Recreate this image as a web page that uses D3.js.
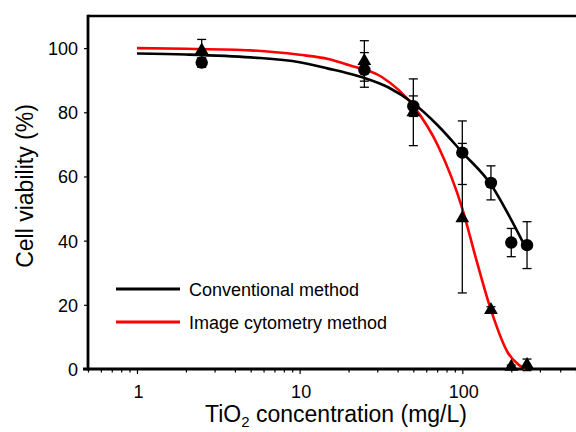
<!DOCTYPE html>
<html>
<head>
<meta charset="utf-8">
<script src="https://cdn.jsdelivr.net/npm/d3@7"></script>
<style>
  body { margin: 0; background: #fff; }
  text { font-family: Arial, "Liberation Sans", sans-serif; fill: #000; }
</style>
</head>
<body>
<svg width="576" height="432"></svg>
<script>
let width = 576, height = 432;

// measured points (mg/L)
let conc = [2.5, 25, 50, 100, 150, 200, 250];
let convMean = [95.5, 93.2, 81.9, 67.4, 58.0, 39.4, 38.6];
let convErr = [1.5, 5.4, 3.2, 9.9, 5.3, 4.4, 7.3];
let icMean = [99.3, 96.0, 80.0, 47.0, 18.4, 0.7, 1.3];
let icErr = [3.4, 6.3, 10.4, 23.3, 1.0, 0.5, 1.8];

// fitted curves
let convFitX = [1, 2, 5, 10, 15, 20, 25, 35, 50, 71, 100, 150, 200, 250];
let convFitY = [98.3, 98.0, 97.1, 95.6, 93.6, 92.1, 90.7, 87.8, 82.8, 75.8, 67.5, 57.5, 46.5, 37.0];
let icFitX = [1, 2, 5, 10, 15, 20, 32, 50, 71, 100, 122, 150, 191, 220, 244];
let icFitY = [100, 99.8, 99.3, 97.9, 96.6, 94.7, 91.0, 82.0, 69.5, 50.0, 34.0, 18.4, 5.0, 1.5, 0];

let yTicks = [0, 20, 40, 60, 80, 100];
let xLabels = [1, 10, 100];
let legendNames = ["Conventional method", "Image cytometry method"];
let legendColors = ["#000", "#ff0000"];

let svg = d3.select("svg")
    .attr("width", width)
    .attr("height", height);

let x = d3.scaleLog().domain([0.5, 500]).range([88, 576]);
let y = d3.scaleLinear().domain([0, 110]).range([369, 16]);

// frame top line
svg.append("line")
    .attr("x1", 88).attr("x2", 580)
    .attr("y1", 16).attr("y2", 16)
    .attr("stroke", "#000").attr("stroke-width", 2.5);

// x axis
let xAxis = svg.append("g")
    .attr("transform", "translate(0,369)")
    .call(d3.axisBottom(x).tickValues(x.ticks()).tickSize(4).tickFormat(""));
xAxis.select(".domain").remove();
xAxis.selectAll(".tick line")
    .attr("stroke-width", 1.2)
    .attr("y2", d => xLabels.includes(d) ? 5 : 3.5);
xAxis.selectAll(".tick")
    .filter(d => xLabels.includes(d))
    .append("text")
    .attr("x", 1)
    .attr("y", 29)
    .attr("text-anchor", "middle")
    .style("font-size", "18px")
    .text(d => d);
svg.append("line")
    .attr("x1", 83).attr("x2", 580)
    .attr("y1", 369).attr("y2", 369)
    .attr("stroke", "#000").attr("stroke-width", 2.8);

// y axis
let yAxis = svg.append("g")
    .attr("transform", "translate(88,0)")
    .call(d3.axisLeft(y).tickValues(yTicks).tickSize(4).tickPadding(6));
yAxis.select(".domain").remove();
yAxis.selectAll(".tick line").attr("stroke-width", 1.2);
yAxis.selectAll(".tick text")
    .attr("dy", "0.36em")
    .style("font-size", "18px")
    .style("font-family", "Arial, 'Liberation Sans', sans-serif");
svg.append("line")
    .attr("x1", 88).attr("x2", 88)
    .attr("y1", 14.75).attr("y2", 370.4)
    .attr("stroke", "#000").attr("stroke-width", 2.8);

// axis titles
svg.append("text")
    .attr("x", 336).attr("y", 422)
    .attr("text-anchor", "middle")
    .style("font-size", "23px")
    .html('TiO<tspan dy="5" font-size="15px">2</tspan><tspan dy="-5"> concentration (mg/L)</tspan>');

svg.append("text")
    .attr("transform", "translate(33,186) rotate(-90)")
    .attr("text-anchor", "middle")
    .style("font-size", "23px")
    .text("Cell viability (%)");

// fitted curves
let line = d3.line()
    .x(d => x(d[0]))
    .y(d => y(d[1]))
    .curve(d3.curveMonotoneX);

svg.append("path")
    .datum(d3.zip(icFitX, icFitY))
    .attr("d", line)
    .attr("fill", "none")
    .attr("stroke", "#ff0000")
    .attr("stroke-width", 2.6);

svg.append("path")
    .datum(d3.zip(convFitX, convFitY))
    .attr("d", line)
    .attr("fill", "none")
    .attr("stroke", "#000")
    .attr("stroke-width", 2.6);

// error bars
function errorBars(means, errs) {
    let g = svg.append("g").attr("stroke", "#000").attr("stroke-width", 1.3);
    conc.forEach((c, i) => {
        let cx = x(c), lo = y(means[i] - errs[i]), hi = y(means[i] + errs[i]);
        g.append("line").attr("x1", cx).attr("x2", cx).attr("y1", lo).attr("y2", hi);
        g.append("line").attr("x1", cx - 4.5).attr("x2", cx + 4.5).attr("y1", lo).attr("y2", lo);
        g.append("line").attr("x1", cx - 4.5).attr("x2", cx + 4.5).attr("y1", hi).attr("y2", hi);
    });
}
errorBars(convMean, convErr);
errorBars(icMean, icErr);

// markers
svg.append("g")
    .selectAll("circle")
    .data(d3.zip(conc, convMean))
    .enter()
    .append("circle")
    .attr("cx", d => x(d[0]))
    .attr("cy", d => y(d[1]))
    .attr("r", 6.2)
    .attr("fill", "#000");

let tri = d3.symbol().type(d3.symbolTriangle).size(82);
svg.append("g")
    .selectAll("path")
    .data(d3.zip(conc, icMean))
    .enter()
    .append("path")
    .attr("d", tri)
    .attr("transform", d => "translate(" + x(d[0]) + "," + y(d[1]) + ")")
    .attr("fill", "#000");

// legend
let legend = svg.append("g")
    .selectAll("g")
    .data(legendNames)
    .enter()
    .append("g")
    .attr("transform", (d, i) => "translate(0," + (289 + i * 33) + ")");
legend.append("line")
    .attr("x1", 116).attr("x2", 180)
    .attr("stroke", (d, i) => legendColors[i])
    .attr("stroke-width", 3);
legend.append("text")
    .attr("x", 189)
    .attr("y", 6.5)
    .style("font-size", "18px")
    .text(d => d);
</script>
</body>
</html>
